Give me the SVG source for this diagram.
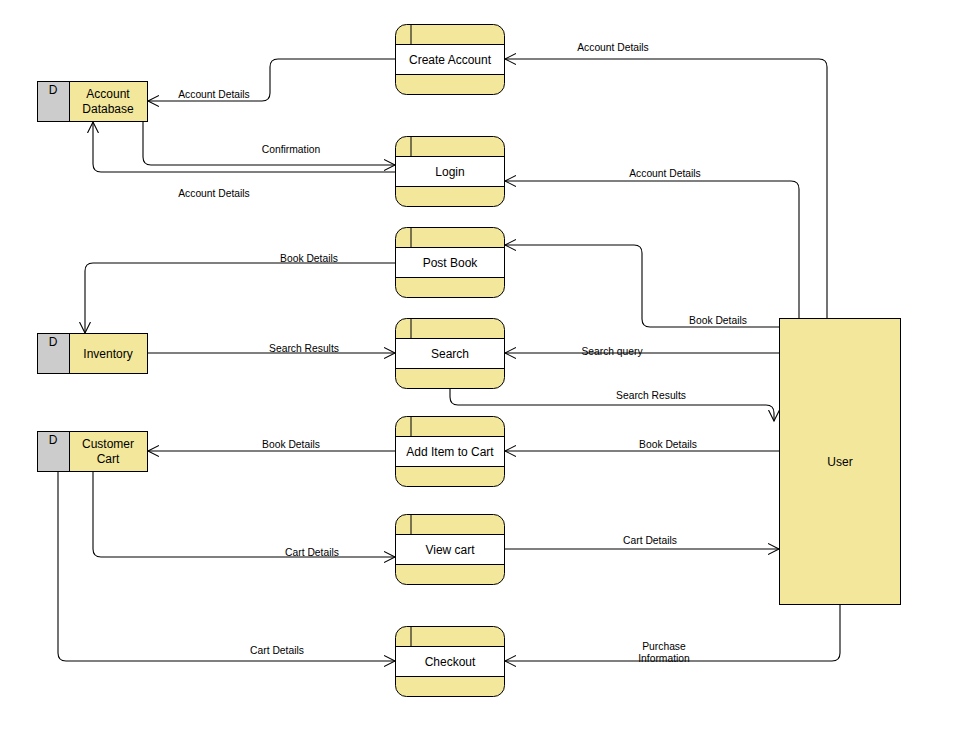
<svg xmlns="http://www.w3.org/2000/svg" width="963" height="734" viewBox="0 0 963 734">
<style>
.bg{fill:#ffffff}
.y{fill:#F3E79B;stroke:#000;stroke-width:1}
.g{fill:#CCCCCC;stroke:#000;stroke-width:1}
.w{fill:#ffffff;stroke:#000;stroke-width:1}
.ln{fill:none;stroke:#000;stroke-width:1}
.c{fill:none;stroke:#000;stroke-width:1.1;marker-end:url(#arr)}
.t{font-family:"Liberation Sans",Arial,sans-serif;font-size:12px;fill:#000;text-anchor:middle}
.l{font-family:"Liberation Sans",Arial,sans-serif;font-size:10.3px;fill:#000;text-anchor:middle}
</style>
<defs>
<marker id="arr" markerUnits="userSpaceOnUse" markerWidth="14" markerHeight="14" refX="11" refY="6" orient="auto">
<path d="M0,0.5 L11,6 L0,11.5" fill="none" stroke="#000" stroke-width="1.1"/>
</marker>
<g id="proc">
<rect x="0" y="0" width="109" height="70" rx="11" ry="11" class="y"/>
<rect x="0.5" y="20" width="108" height="30" fill="#fff"/>
<line x1="0" y1="20" x2="109" y2="20" class="ln"/>
<line x1="0" y1="50" x2="109" y2="50" class="ln"/>
<line x1="15.5" y1="0" x2="15.5" y2="20" class="ln"/>
</g>
</defs>
<rect class="bg" x="0" y="0" width="963" height="734"/>

<g id="connectors">
<path class="c" d="M827,318 V67 Q827,59 819,59 H505"/>
<path class="c" d="M395,59 H278 Q270,59 270,67 V93 Q270,101 262,101 H148"/>
<path class="c" d="M143,121 V157 Q143,165 151,165 H395"/>
<path class="c" d="M395,172 H101 Q93,172 93,164 V122"/>
<path class="c" d="M799,318 V189 Q799,181 791,181 H505"/>
<path class="c" d="M779,327 H650 Q642,327 642,319 V253 Q642,245 634,245 H505"/>
<path class="c" d="M395,263 H93 Q85,263 85,271 V333"/>
<path class="c" d="M148,353 H395"/>
<path class="c" d="M779,353 H505"/>
<path class="c" d="M450,388 V397 Q450,405 458,405 H766 Q774,405 774,413 V421"/>
<path class="c" d="M779,451 H505"/>
<path class="c" d="M395,451 H148"/>
<path class="c" d="M93,471 V549 Q93,557 101,557 H395"/>
<path class="c" d="M505,549 H779"/>
<path class="c" d="M58,471 V653 Q58,661 66,661 H395"/>
<path class="c" d="M840,604 V653 Q840,661 832,661 H505"/>
<text class="l" x="613" y="51">Account Details</text>
<text class="l" x="214" y="98">Account Details</text>
<text class="l" x="291" y="153">Confirmation</text>
<text class="l" x="214" y="197">Account Details</text>
<text class="l" x="665" y="177">Account Details</text>
<text class="l" x="718" y="324">Book Details</text>
<text class="l" x="309" y="262">Book Details</text>
<text class="l" x="304" y="352">Search Results</text>
<text class="l" x="612" y="355">Search query</text>
<text class="l" x="651" y="399">Search Results</text>
<text class="l" x="668" y="448">Book Details</text>
<text class="l" x="291" y="448">Book Details</text>
<text class="l" x="312" y="556">Cart Details</text>
<text class="l" x="650" y="544">Cart Details</text>
<text class="l" x="277" y="654">Cart Details</text>
<text class="l" x="664" y="650">Purchase</text>
<text class="l" x="664" y="662">Information</text>
</g>

<g id="account-database">
<rect x="37.5" y="81.5" width="32" height="40" class="g"/>
<rect x="69.5" y="81.5" width="78" height="40" class="y"/>
<text class="t" x="53" y="94">D</text>
<text class="t" x="108" y="98">Account</text>
<text class="t" x="108" y="113">Database</text>
</g>
<g id="inventory">
<rect x="37.5" y="333.5" width="32" height="40" class="g"/>
<rect x="69.5" y="333.5" width="78" height="40" class="y"/>
<text class="t" x="53" y="346">D</text>
<text class="t" x="108" y="358">Inventory</text>
</g>
<g id="customer-cart">
<rect x="37.5" y="431.5" width="32" height="40" class="g"/>
<rect x="69.5" y="431.5" width="78" height="40" class="y"/>
<text class="t" x="53" y="444">D</text>
<text class="t" x="108" y="448">Customer</text>
<text class="t" x="108" y="463">Cart</text>
</g>

<g id="create-account"><use href="#proc" x="395.5" y="24.5"/><text class="t" x="450" y="64">Create Account</text></g>
<g id="login"><use href="#proc" x="395.5" y="136.5"/><text class="t" x="450" y="176">Login</text></g>
<g id="post-book"><use href="#proc" x="395.5" y="227.5"/><text class="t" x="450" y="267">Post Book</text></g>
<g id="search"><use href="#proc" x="395.5" y="318.5"/><text class="t" x="450" y="358">Search</text></g>
<g id="add-item"><use href="#proc" x="395.5" y="416.5"/><text class="t" x="450" y="456">Add Item to Cart</text></g>
<g id="view-cart"><use href="#proc" x="395.5" y="514.5"/><text class="t" x="450" y="554">View cart</text></g>
<g id="checkout"><use href="#proc" x="395.5" y="626.5"/><text class="t" x="450" y="666">Checkout</text></g>

<g id="user">
<rect x="779.5" y="318.5" width="121" height="286" class="y"/>
<text class="t" x="840" y="466">User</text>
</g>
</svg>
